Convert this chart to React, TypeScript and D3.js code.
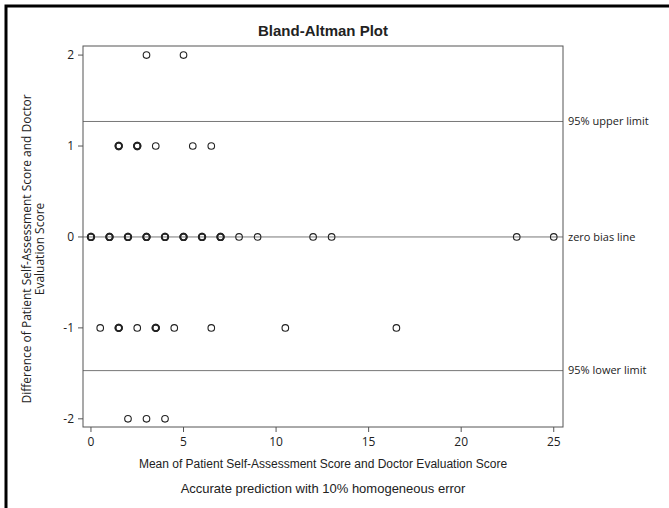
import * as d3 from "d3";

// mean score (x) and difference (y) of each observation
const meanScores = [
  3, 5,
  1.5, 1.5, 2.5, 2.5, 3.5, 5.5, 6.5,
  0, 0, 1, 1, 2, 2, 3, 3, 4, 4, 5, 5, 6, 6, 7, 7, 8, 9, 12, 13, 23, 25,
  0.5, 1.5, 1.5, 2.5, 3.5, 3.5, 4.5, 6.5, 10.5, 16.5,
  2, 3, 4,
];
const differences = [
  2, 2,
  1, 1, 1, 1, 1, 1, 1,
  0, 0, 0, 0, 0, 0, 0, 0, 0, 0, 0, 0, 0, 0, 0, 0, 0, 0, 0, 0, 0, 0,
  -1, -1, -1, -1, -1, -1, -1, -1, -1, -1,
  -2, -2, -2,
];

const refValues = [1.27, 0, -1.47];
const refLabels = ["95% upper limit", "zero bias line", "95% lower limit"];

const xTicks = [0, 5, 10, 15, 20, 25];
const yTicks = [2, 1, 0, -1, -2];

const width = 669;
const height = 508;
const plot = { left: 83, right: 563, top: 46, bottom: 427 };

export default function App() {
  const x = d3.scaleLinear().domain([-0.43, 25.5]).range([plot.left, plot.right]);
  const y = d3.scaleLinear().domain([-2.09, 2.1]).range([plot.bottom, plot.top]);

  const points = meanScores.map((m, i) => ({ m, d: differences[i] }));
  const counts = d3.rollup(points, (v) => v.length, (p) => `${p.m}|${p.d}`);

  const tickFont = "'Open Sans', 'Noto Sans', sans-serif";
  const labelFont = "'Liberation Sans', Arial, sans-serif";
  const midX = (plot.left + plot.right) / 2;

  return (
    <svg width={width} height={height} style={{ position: "absolute", left: 0, top: 0, background: "#fff" }}>
      <rect x={6} y={6} width={800} height={700} fill="#fff" stroke="#000" strokeWidth={3} />

      <text x={midX} y={36} textAnchor="middle" fontFamily={labelFont} fontSize={15} fontWeight="bold" fill="#222">
        Bland-Altman Plot
      </text>

      {refValues.map((v, i) => (
        <g key={refLabels[i]}>
          <line x1={plot.left} x2={plot.right} y1={y(v)} y2={y(v)} stroke="#777" strokeWidth={1} />
          <text x={plot.right + 5} y={y(v)} dy="0.35em" fontFamily={tickFont} fontSize={11} fill="#222">
            {refLabels[i]}
          </text>
        </g>
      ))}

      <rect
        x={plot.left}
        y={plot.top}
        width={plot.right - plot.left}
        height={plot.bottom - plot.top}
        fill="none"
        stroke="#555"
        strokeWidth={1}
      />

      {yTicks.map((t) => (
        <g key={`y${t}`}>
          <line x1={plot.left - 5} x2={plot.left} y1={y(t)} y2={y(t)} stroke="#555" />
          <text x={plot.left - 9} y={y(t)} dy="0.35em" textAnchor="end" fontFamily={tickFont} fontSize={12} fill="#222">
            {t}
          </text>
        </g>
      ))}

      {xTicks.map((t) => (
        <g key={`x${t}`}>
          <line x1={x(t)} x2={x(t)} y1={plot.bottom} y2={plot.bottom + 5} stroke="#555" />
          <text x={x(t)} y={plot.bottom + 19} textAnchor="middle" fontFamily={tickFont} fontSize={12} fill="#222">
            {t}
          </text>
        </g>
      ))}

      {points.map((p, i) => (
        <circle
          key={i}
          cx={x(p.m)}
          cy={y(p.d)}
          r={3.3}
          fill="none"
          stroke="#222"
          strokeWidth={(counts.get(`${p.m}|${p.d}`) ?? 1) > 1 ? 1.7 : 1.1}
        />
      ))}

      <text x={midX} y={468} textAnchor="middle" fontFamily={labelFont} fontSize={12} fill="#222">
        Mean of Patient Self-Assessment Score and Doctor Evaluation Score
      </text>
      <text x={midX} y={493} textAnchor="middle" fontFamily={labelFont} fontSize={13} fill="#222">
        Accurate prediction with 10% homogeneous error
      </text>

      <g transform={`translate(31, 249) rotate(-90)`}>
        <text x={0} y={0} textAnchor="middle" fontFamily={tickFont} fontSize={12} fill="#222">
          Difference of Patient Self-Assessment Score and Doctor
        </text>
        <text x={0} y={13} textAnchor="middle" fontFamily={tickFont} fontSize={12} fill="#222">
          Evaluation Score
        </text>
      </g>
    </svg>
  );
}
